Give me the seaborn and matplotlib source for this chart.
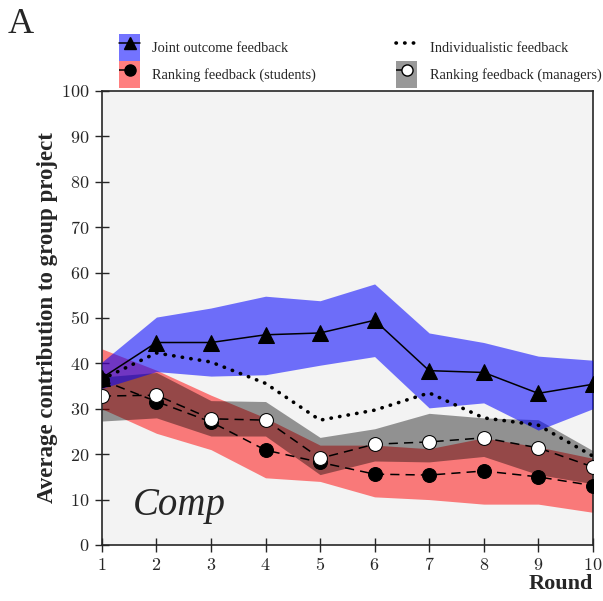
import numpy as np
import pandas as pd
import matplotlib.pyplot as plt
import seaborn as sns
from matplotlib.patches import Patch
from matplotlib.lines import Line2D

# Datos
rounds = [1, 2, 3, 4, 5, 6, 7, 8, 9, 10]

joint = [36.8, 44.6, 44.6, 46.3, 46.7, 49.5, 38.4, 38.0, 33.4, 35.4]
joint_hi = [40.3, 50.2, 52.2, 54.8, 53.8, 57.5, 46.7, 44.6, 41.6, 40.7]
joint_lo = [34.5, 38.2, 37.2, 37.5, 39.6, 41.5, 30.2, 31.3, 25.3, 30.0]

indiv = [36.5, 42.3, 40.3, 35.6, 27.5, 29.7, 33.5, 28.0, 26.4, 19.6]

students = [36.3, 31.6, 27.1, 20.9, 18.2, 15.6, 15.4, 16.3, 15.0, 13.1]
students_hi = [43.2, 38.5, 33.0, 28.0, 22.0, 22.0, 21.2, 23.6, 21.6, 19.1]
students_lo = [30.0, 24.6, 21.0, 14.8, 14.0, 10.6, 10.0, 9.0, 9.0, 7.2]

managers = [32.8, 33.0, 27.8, 27.5, 19.1, 22.2, 22.7, 23.6, 21.4, 17.2]
managers_hi = [37.0, 38.0, 31.8, 31.6, 23.7, 25.6, 29.0, 28.0, 27.6, 20.8]
managers_lo = [27.3, 28.0, 24.0, 24.0, 15.5, 18.5, 18.3, 19.5, 15.5, 13.5]

sns.set_style("ticks")
plt.rcParams['font.family'] = ['Liberation Serif', 'DejaVu Serif']
plt.rcParams['mathtext.fontset'] = 'cm'

df = pd.DataFrame({
    'round': rounds, 'joint': joint, 'indiv': indiv,
    'students': students, 'managers': managers,
})

fig = plt.figure(figsize=(6.03, 6.01), dpi=100)
ax = fig.add_axes([0.169, 0.0932, 0.814, 0.7554])
ax.set_facecolor('#f3f3f3')

# Bandas
ax.fill_between(rounds, students_lo, students_hi, color='#ff0000', alpha=0.5, lw=0, zorder=1)
ax.fill_between(rounds, managers_lo, managers_hi, color='black', alpha=0.4, lw=0, zorder=2)
ax.fill_between(rounds, joint_lo, joint_hi, color='#0000ff', alpha=0.55, lw=0, zorder=3)

# Líneas
sns.lineplot(data=df, x='round', y='indiv', ax=ax, color='black', lw=2.6,
             linestyle=(0, (0.1, 2.3)), dash_capstyle='round', zorder=4)
sns.lineplot(data=df, x='round', y='students', ax=ax, color='black', lw=1.1,
             linestyle=(0, (6, 4)), marker='o', markersize=10,
             markerfacecolor='black', markeredgecolor='black', zorder=5)
sns.lineplot(data=df, x='round', y='managers', ax=ax, color='black', lw=1.1,
             linestyle=(0, (6, 4)), marker='o', markersize=10,
             markerfacecolor='white', markeredgecolor='black', zorder=6)
sns.lineplot(data=df, x='round', y='joint', ax=ax, color='black', lw=1.1,
             marker='^', markersize=11, markerfacecolor='black',
             markeredgecolor='black', zorder=7)

ax.set_xlim(1, 10)
ax.set_ylim(0, 100)
ax.set_xticks(rounds)
ax.set_xticklabels([f'${r}$' for r in rounds], fontsize=13)
yt = list(range(0, 101, 10))
ax.set_yticks(yt)
ax.set_yticklabels([f'${v}$' for v in yt], fontsize=13)
ax.tick_params(direction='inout', length=10, width=1, pad=4)
for s in ax.spines.values():
    s.set_linewidth(1.2)

ax.set_xlabel('')
ax.set_ylabel('Average contribution to group project', fontsize=16.5,
              fontweight='bold', labelpad=2)
ax.text(1.0, -0.064, 'Round', transform=ax.transAxes, ha='right', va='top',
        fontsize=16, fontweight='bold')
ax.text(1.57, 6.6, 'Comp', fontsize=28, style='italic', zorder=8)
fig.text(0.012, 0.945, 'A', fontsize=26)

# Leyenda
h_joint = (Patch(facecolor='#0000ff', alpha=0.55, lw=0),
           Line2D([], [], color='black', lw=1.1, marker='^', markersize=8))
h_stud = (Patch(facecolor='#ff0000', alpha=0.5, lw=0),
          Line2D([], [], color='black', lw=1.1, linestyle=(0, (4, 3)),
                 marker='o', markersize=8))
h_ind = Line2D([], [], color='black', lw=2.6, linestyle=(0, (0.1, 2.3)),
               dash_capstyle='round')
h_man = (Patch(facecolor='black', alpha=0.4, lw=0),
         Line2D([], [], color='black', lw=1.1, linestyle=(0, (4, 3)),
                marker='o', markersize=8, markerfacecolor='white'))
ax.legend([h_joint, h_stud, h_ind, h_man],
          ['Joint outcome feedback', 'Ranking feedback (students)',
           'Individualistic feedback', 'Ranking feedback (managers)'],
          ncol=2, loc='lower left', bbox_to_anchor=(0.029, 1.0),
          frameon=False, fontsize=10.4, handlelength=1.45, handleheight=2.5,
          columnspacing=5.55, labelspacing=0.0, handletextpad=0.85,
          borderaxespad=0.0, borderpad=0.2)

fig.savefig('out.png', dpi=100)
